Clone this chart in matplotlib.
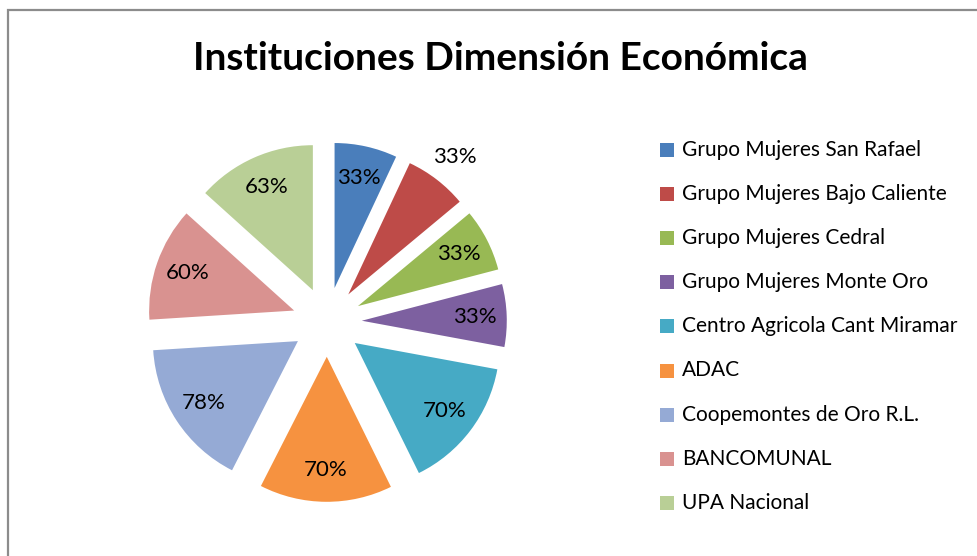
import matplotlib.pyplot as plt
from matplotlib.patches import Rectangle
import numpy as np

title = "Instituciones Dimensión Económica"
institutions = ["Grupo Mujeres San Rafael", "Grupo Mujeres Bajo Caliente", "Grupo Mujeres Cedral",
                "Grupo Mujeres Monte Oro", "Centro Agricola Cant Miramar", "ADAC",
                "Coopemontes de Oro R.L.", "BANCOMUNAL", "UPA Nacional"]
scores = [33, 33, 33, 33, 70, 70, 78, 60, 63]
colors = ["#4A7EBB", "#BE4B48", "#98B954", "#7D60A0", "#46AAC5",
          "#F69240", "#95AAD5", "#D99290", "#B9CF96"]

W, H = 977, 556
fig = plt.figure(figsize=(W / 100, H / 100), dpi=100)
plt.rcParams['font.family'] = ['Lato', 'DejaVu Sans']

# chart area border (only top and left visible)
fig.patches.append(Rectangle((8 / W, -0.5), 2, 1.5 - 10 / H, transform=fig.transFigure,
                             fill=False, edgecolor='#8c8c8c', linewidth=1.6))

fig.text(500 / W, 1 - 58 / H, title, ha='center', va='center',
         fontsize=28, fontweight='bold')

# pie axes, square in pixels, centred on pie centre
cx, cy, half, r_px = 327, 322, 190, 145
ax = fig.add_axes([(cx - half) / W, (H - cy - half) / H, 2 * half / W, 2 * half / H])
total = sum(scores)
wedges, texts, autotexts = ax.pie(scores, colors=colors, startangle=90, counterclock=False,
                                  explode=[0.24] * len(scores), radius=1.0,
                                  autopct=lambda p: f"{round(p * total / 100)}%",
                                  pctdistance=0.78,
                                  textprops={'fontsize': 16, 'color': 'black'})
ax.set_xlim(-half / r_px, half / r_px)
ax.set_ylim(-half / r_px, half / r_px)
ax.set_aspect('equal')
ax.axis('off')

# second label sits outside its slice
w = wedges[1]
mid = np.deg2rad((w.theta1 + w.theta2) / 2)
autotexts[1].set_position((1.44 * np.cos(mid), 1.44 * np.sin(mid)))

# legend
for i, (name, col) in enumerate(zip(institutions, colors)):
    y = 1 - (150 + i * 44.1) / H
    fig.patches.append(Rectangle((660 / W, y - 7 / H), 14 / W, 14 / H,
                                 transform=fig.transFigure, facecolor=col, edgecolor='none'))
    fig.text(682 / W, y, name, ha='left', va='center', fontsize=15)

plt.savefig("out.png", dpi=100)
